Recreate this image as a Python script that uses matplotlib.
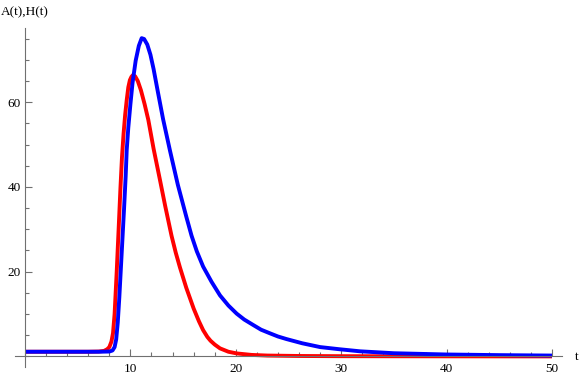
import numpy as np
import matplotlib
matplotlib.use("Agg")
import matplotlib.pyplot as plt
from matplotlib.ticker import MultipleLocator

# ---- data ----
t_a = [0, 4, 6, 7, 7.5, 7.8, 8.0, 8.2, 8.35, 8.5, 8.6, 8.7, 8.8, 8.9,
       9.05, 9.2, 9.35, 9.5, 9.65, 9.8, 9.95, 10.1, 10.25, 10.45, 10.7,
       11.0, 11.35, 11.7, 12.2, 12.8, 13.3, 13.9, 14.3, 14.7, 15.3, 16.0,
       16.5, 16.9, 17.3, 17.6, 18.0, 18.5, 19.3, 20.1, 21.5, 23, 26, 30,
       40, 50]
a_vals = [1.1, 1.1, 1.1, 1.15, 1.3, 1.7, 2.2, 3.5, 5.5, 10, 15, 20, 25.5,
          31, 39.5, 47, 52.5, 57, 60.5, 63.5, 65.2, 66, 66.4, 66.1, 65,
          62.8, 59.5, 55.8, 49, 41.7, 35.5, 28.5, 24.5, 21, 16.2, 11.3,
          8.3, 6.2, 4.6, 3.7, 2.8, 1.9, 1.1, 0.7, 0.35, 0.2, 0.1, 0.05,
          0.02, 0.0]

t_h = [0, 4, 7, 8.0, 8.3, 8.5, 8.65, 8.8, 8.95, 9.1, 9.25, 9.4, 9.55,
       9.65, 9.8, 10.0, 10.2, 10.5, 10.8, 11.07, 11.3, 11.6, 11.9, 12.2,
       12.6, 13.1, 13.76, 14.5, 15.3, 15.8, 16.3, 16.9, 17.7, 18.5, 19.3,
       20.08, 20.8, 21.66, 22.4, 23.24, 24.0, 24.8, 26.3, 28.0, 29.8,
       31.8, 35, 40, 45, 50]
h_vals = [1.1, 1.1, 1.1, 1.15, 1.4, 2.2, 4, 8, 14, 21, 28, 35, 42.5,
          48.7, 54, 59.5, 64.5, 69.8, 73.3, 75.1, 74.9, 73.6, 71.2, 67.8,
          62.5, 56, 48.5, 40.5, 33, 28.5, 24.8, 21.2, 17.6, 14.4, 12.0,
          10.1, 8.7, 7.4, 6.3, 5.45, 4.7, 4.1, 3.1, 2.2, 1.7, 1.2, 0.75,
          0.45, 0.3, 0.2]

x_major = [10, 20, 30, 40, 50]
y_major = [20, 40, 60]

AXIS_GREY = "#707070"
plt.rcParams["font.family"] = ["Liberation Serif", "DejaVu Serif"]

fig = plt.figure(figsize=(5.81, 3.78), dpi=100)
W, H = 581, 378
# axes box in pixels: x from 15 to 562, y from 28 to 367 (top-down)
ax = fig.add_axes([15 / W, 1 - 367 / H, 547 / W, 339 / H])
ax.set_xlim(-0.95, 50.95)
ax.set_ylim(-2.5, 77.5)

ax.plot(t_a, a_vals, color="#ff0000", lw=2.8, solid_joinstyle="round",
        solid_capstyle="butt")
ax.plot(t_h, h_vals, color="#0000ff", lw=2.8, solid_joinstyle="round",
        solid_capstyle="butt")

ax.spines["left"].set_position(("data", 0))
ax.spines["bottom"].set_position(("data", 0))
ax.spines["right"].set_visible(False)
ax.spines["top"].set_visible(False)
for s in ("left", "bottom"):
    ax.spines[s].set_color(AXIS_GREY)
    ax.spines[s].set_linewidth(0.8)

ax.set_xticks(x_major)
ax.set_yticks(y_major)
ax.xaxis.set_minor_locator(MultipleLocator(2))
ax.yaxis.set_minor_locator(MultipleLocator(5))
ax.tick_params(which="both", direction="in", color=AXIS_GREY, width=0.8,
               labelsize=9.5, labelcolor="black")
ax.tick_params(which="major", length=5)
ax.tick_params(which="minor", length=3)
ax.tick_params(axis="x", pad=5)
ax.tick_params(axis="y", pad=3)
ax.patch.set_visible(False)

fig.text(1 / W, 1 - 12 / H, "A(t),H(t)", fontsize=9.5, ha="left", va="center")
fig.text(577 / W, 1 - 357 / H, "t", fontsize=9.5, ha="center", va="center")

fig.savefig("out.png", dpi=100)
